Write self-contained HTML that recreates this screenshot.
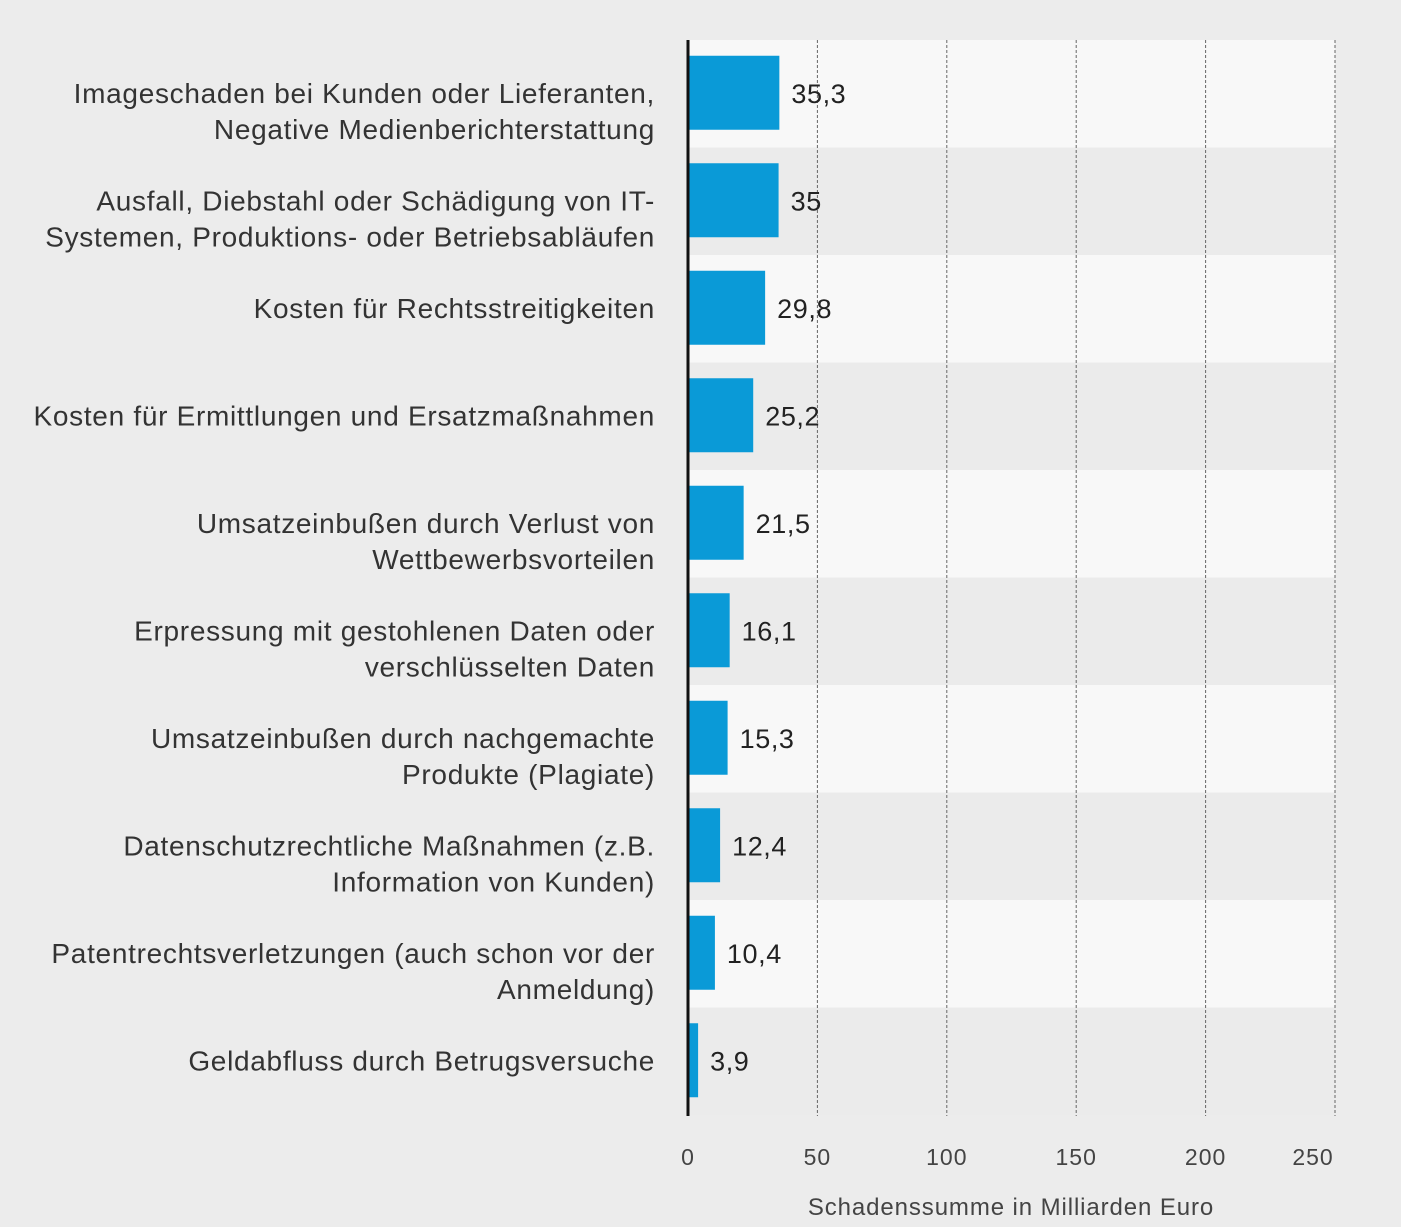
<!DOCTYPE html>
<html><head><meta charset="utf-8"><style>
body{margin:0;background:#ececec;}
svg{display:block;font-family:"Liberation Sans",sans-serif;}
</style></head><body>
<svg width="1401" height="1227">
<rect width="1401" height="1227" fill="#ececec"/>
<g id="bands"></g><g id="grid"></g><g id="bars"></g><g id="labels"></g><g id="ticks"></g>
<line x1="688" y1="40" x2="688" y2="1116" stroke="#111" stroke-width="3"/>
<text x="1011" y="1215" text-anchor="middle" font-size="24" letter-spacing="0.9" fill="#444">Schadenssumme in Milliarden Euro</text>
</svg>
<script>
const categories=[
["Imageschaden bei Kunden oder Lieferanten,","Negative Medienberichterstattung"],
["Ausfall, Diebstahl oder Schädigung von IT-","Systemen, Produktions- oder Betriebsabläufen"],
["Kosten für Rechtsstreitigkeiten"],
["Kosten für Ermittlungen und Ersatzmaßnahmen"],
["Umsatzeinbußen durch Verlust von","Wettbewerbsvorteilen"],
["Erpressung mit gestohlenen Daten oder","verschlüsselten Daten"],
["Umsatzeinbußen durch nachgemachte","Produkte (Plagiate)"],
["Datenschutzrechtliche Maßnahmen (z.B.","Information von Kunden)"],
["Patentrechtsverletzungen (auch schon vor der","Anmeldung)"],
["Geldabfluss durch Betrugsversuche"]];
const values=[35.3,35,29.8,25.2,21.5,16.1,15.3,12.4,10.4,3.9];
const valueLabels=["35,3","35","29,8","25,2","21,5","16,1","15,3","12,4","10,4","3,9"];
const ticks=[0,50,100,150,200,250];
const NS="http://www.w3.org/2000/svg";
const x0=688,x1=1335,vmax=250,plotTop=40,rowH=107.5;
const xs=v=>x0+(x1-x0)*v/vmax;
const yr=i=>plotTop+i*rowH;
function mk(t,a,p){const e=document.createElementNS(NS,t);for(const k in a)e.setAttribute(k,a[k]);document.getElementById(p).appendChild(e);return e;}
categories.forEach((c,i)=>{
 const b=mk('rect',{x:x0,y:yr(i),width:x1-x0,height:rowH,fill:i%2?'#ebebeb':'#f8f8f8'},'bands');
 
 
});
ticks.slice(1).forEach(t=>{
 const l=mk('line',{x1:xs(t),x2:xs(t),y1:plotTop,y2:1116,stroke:'#666','stroke-width':1,'stroke-dasharray':'3,2'},'grid');
 
 
});
ticks.forEach(t=>{
 const e=mk('text',{x:Math.min(xs(t),1313),y:1165,'text-anchor':'middle','font-size':23,'letter-spacing':1,fill:'#444'},'ticks');
 e.textContent=t;
 
 
});
values.forEach((v,i)=>{
 const cy=yr(i)+rowH/2-1;
 const r=mk('rect',{x:x0,y:cy-37,width:xs(v)-x0,height:74,fill:'#0a9ad7'},'bars');
 
 
 const t=mk('text',{x:xs(v)+12,y:cy+10,'font-size':27,'letter-spacing':0.6,fill:'#222'},'labels');
 t.textContent=valueLabels[i];
 
 
 const lines=categories[i];
 lines.forEach((s,j)=>{
  const yy=cy+10+j*36;
  const c=mk('text',{x:655,y:yy,'text-anchor':'end','font-size':28,'letter-spacing':0.7,fill:'#333'},'labels');
  c.textContent=s;
  
  
 });
});
</script>
</body></html>
